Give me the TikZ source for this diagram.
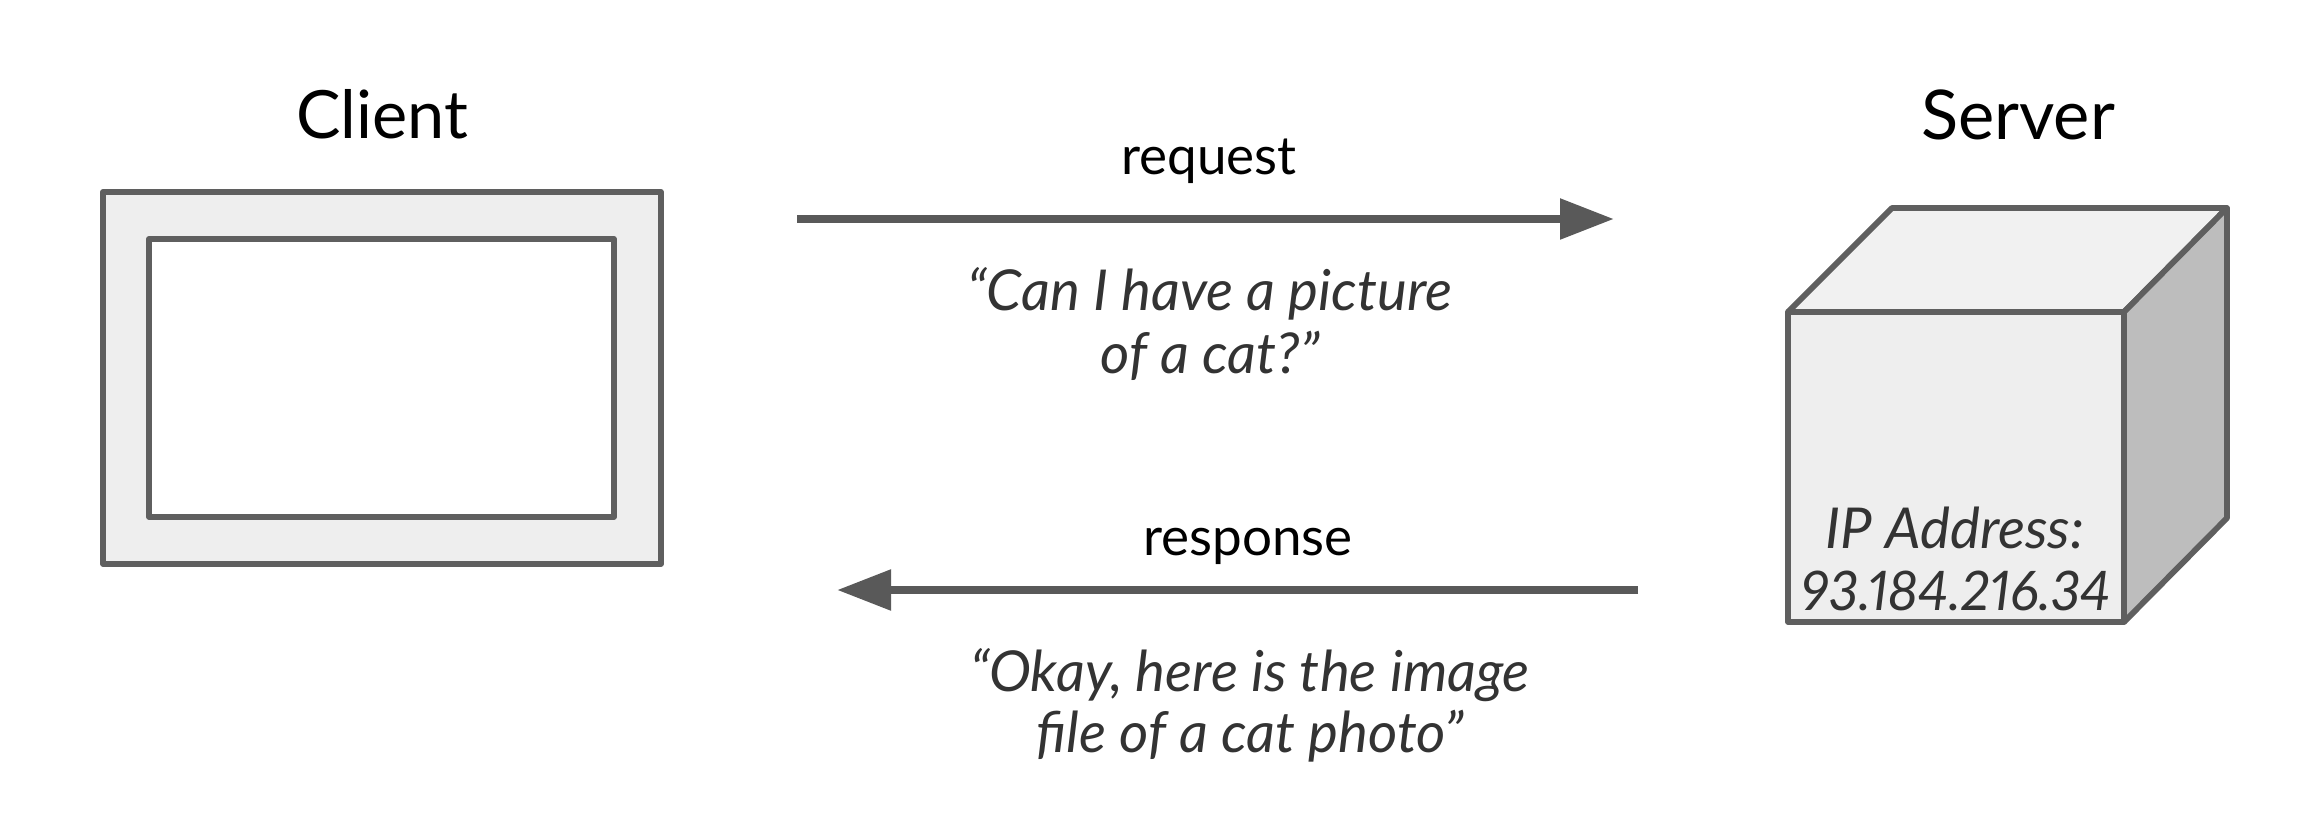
\documentclass[tikz,border=0pt]{standalone}
\usepackage{fontspec}
\setmainfont{Lato}
\usetikzlibrary{arrows.meta}
\definecolor{edgegray}{HTML}{5F5F5F}
\definecolor{arrowgray}{HTML}{595959}
\definecolor{panelgray}{HTML}{EEEEEE}
\definecolor{topgray}{HTML}{F1F1F1}
\definecolor{sidegray}{HTML}{BDBDBD}
\definecolor{quotegray}{HTML}{333333}
\tikzset{
  px/.style={x=0.5pt,y=-0.5pt},
  outline/.style={draw=edgegray,line width=2.9pt,line join=round},
  title/.style={anchor=base,inner sep=0pt,text=black,font=\fontsize{33.3}{33}\selectfont},
  msg/.style={anchor=base,inner sep=0pt,text=black,font=\fontsize{26.5}{26}\selectfont},
  quote/.style={anchor=base,inner sep=0pt,text=quotegray,font=\itshape\fontsize{28.2}{28}\selectfont\addfontfeature{Numbers=Proportional}},
  flow/.style={draw=arrowgray,line width=4.3pt,-{Triangle[length=27pt,width=19.5pt]}}
}
\begin{document}
\begin{tikzpicture}[px]
\useasboundingbox (0,0) rectangle (2308,818);
\fill[white] (0,0) rectangle (2308,818);
% client
\draw[outline,fill=panelgray] (103,192) rectangle (661,564);
\draw[outline,fill=white] (149,239) rectangle (614,517);
\node[title] (clienttitle) at (382,139) {Client};
% server cube
\coordinate (fl) at (1788,312);
\coordinate (fr) at (2124,312);
\coordinate (bl) at (1788,622);
\coordinate (br) at (2124,622);
\coordinate (tl) at (1892,208);
\coordinate (tr) at (2227,208);
\coordinate (sr) at (2227,518);
\draw[outline,fill=topgray] (fl) -- (tl) -- (tr) -- (fr) -- cycle;
\draw[outline,fill=sidegray] (fr) -- (tr) -- (sr) -- (br) -- cycle;
\draw[outline,fill=panelgray] (fl) -- (fr) -- (br) -- (bl) -- cycle;
\node[title,font=\fontsize{34.3}{34}\selectfont] (servertitle) at (2018,140) {Server};
\node[quote] (ip1) at (1955,548) {IP Address:};
\node[quote,font=\itshape\fontsize{27.3}{27}\selectfont\addfontfeature{Numbers=Proportional}] (ip2) at (1956,610) {93.184.216.34};
% arrows
\coordinate (reqstart) at (797,219);
\coordinate (reqend) at (1614,219);
\coordinate (resstart) at (1638,590);
\coordinate (resend) at (837,590);
\draw[flow] (reqstart) -- (reqend);
\draw[flow] (resstart) -- (resend);
% labels
\node[msg] (request) at (1209,175) {request};
\node[quote] (q1) at (1210,311) {“Can I have a picture};
\node[quote] (q2) at (1210,373) {of a cat?”};
\node[msg] (response) at (1248,555) {response};
\node[quote] (q3) at (1250,691) {“Okay, here is the image};
\node[quote] (q4) at (1250,752) {file of a cat photo”};
\end{tikzpicture}
\end{document}
